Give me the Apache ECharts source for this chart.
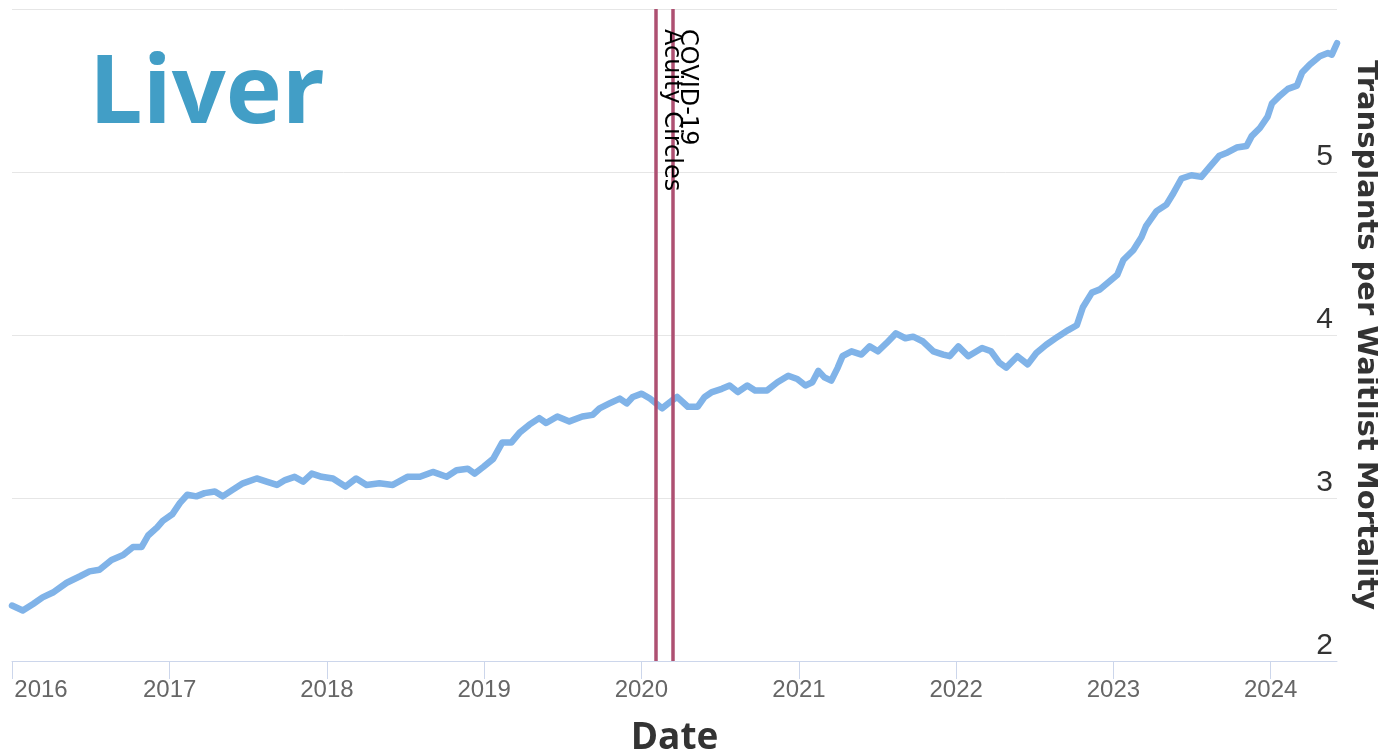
<!DOCTYPE html>
<html>
<head>
<meta charset="utf-8">
<script src="https://cdn.jsdelivr.net/npm/echarts@6/dist/echarts.min.js"></script>
<style>
  html, body { margin: 0; padding: 0; background: #ffffff; }
  #chart { width: 1378px; height: 756px; }
</style>
</head>
<body>
<div id="chart"></div>
<script>
// ---- Data ----
const chartTitle = 'Liver';
const xAxisTitle = 'Date';
const yAxisTitle = 'Transplants per Waitlist Mortality';

const dates = [
  '2016-01-01','2016-01-26','2016-02-19','2016-03-12','2016-04-05','2016-05-07','2016-06-07','2016-06-29',
  '2016-07-22','2016-08-19','2016-09-15','2016-10-08','2016-10-28','2016-11-12','2016-12-03','2016-12-16',
  '2017-01-07','2017-01-25','2017-02-11','2017-03-04','2017-03-23','2017-04-16','2017-05-04','2017-05-27',
  '2017-06-20','2017-07-22','2017-08-14','2017-09-07','2017-09-26','2017-10-18','2017-11-07','2017-11-27',
  '2017-12-20','2018-01-15','2018-02-13','2018-03-10','2018-04-03','2018-05-03','2018-06-03','2018-07-07',
  '2018-08-05','2018-09-04','2018-10-06','2018-10-29','2018-11-24','2018-12-10','2018-12-30','2019-01-22',
  '2019-02-12','2019-03-05','2019-03-24','2019-04-16','2019-05-09','2019-05-25','2019-06-20','2019-07-18',
  '2019-08-17','2019-09-10','2019-09-26','2019-10-19','2019-11-12','2019-11-28','2019-12-12','2020-01-02',
  '2020-01-21','2020-02-18','2020-03-13','2020-03-24','2020-04-18','2020-05-11','2020-05-27','2020-06-13',
  '2020-07-06','2020-07-24','2020-08-12','2020-09-03','2020-09-21','2020-10-19','2020-11-12','2020-12-07',
  '2020-12-28','2021-01-16','2021-02-01','2021-02-15','2021-03-01','2021-03-17','2021-04-01','2021-04-12',
  '2021-05-03','2021-05-26','2021-06-14','2021-07-03','2021-07-23','2021-08-14','2021-09-05','2021-09-23',
  '2021-10-16','2021-11-09','2021-12-02','2021-12-17','2022-01-06','2022-01-29','2022-03-02','2022-03-23',
  '2022-04-11','2022-04-27','2022-05-23','2022-06-16','2022-07-06','2022-07-29','2022-08-25','2022-09-18',
  '2022-10-08','2022-10-22','2022-11-12','2022-12-01','2022-12-19','2023-01-10','2023-01-24','2023-02-16',
  '2023-03-07','2023-03-18','2023-04-11','2023-05-04','2023-05-18','2023-06-08','2023-07-01','2023-07-24',
  '2023-08-12','2023-09-04','2023-09-23','2023-10-14','2023-11-06','2023-11-18','2023-12-07','2023-12-25',
  '2024-01-04','2024-01-23','2024-02-10','2024-03-02','2024-03-14','2024-04-01','2024-04-24','2024-05-13',
  '2024-05-22','2024-06-03'
];

const ratio = [
  2.34, 2.31, 2.35, 2.39, 2.42, 2.48, 2.52, 2.55,
  2.56, 2.62, 2.65, 2.70, 2.70, 2.77, 2.82, 2.86,
  2.90, 2.97, 3.02, 3.01, 3.03, 3.04, 3.01, 3.05,
  3.09, 3.12, 3.10, 3.08, 3.11, 3.13, 3.10, 3.15,
  3.13, 3.12, 3.07, 3.12, 3.08, 3.09, 3.08, 3.13,
  3.13, 3.16, 3.13, 3.17, 3.18, 3.15, 3.19, 3.24,
  3.34, 3.34, 3.40, 3.45, 3.49, 3.46, 3.50, 3.47,
  3.50, 3.51, 3.55, 3.58, 3.61, 3.58, 3.62, 3.64,
  3.61, 3.55, 3.60, 3.62, 3.56, 3.56, 3.62, 3.65,
  3.67, 3.69, 3.65, 3.69, 3.66, 3.66, 3.71, 3.75,
  3.73, 3.69, 3.71, 3.78, 3.74, 3.72, 3.80, 3.87,
  3.90, 3.88, 3.93, 3.90, 3.95, 4.01, 3.98, 3.99,
  3.96, 3.90, 3.88, 3.87, 3.93, 3.87, 3.92, 3.90,
  3.83, 3.80, 3.87, 3.82, 3.89, 3.94, 3.99, 4.03,
  4.06, 4.17, 4.26, 4.28, 4.32, 4.37, 4.46, 4.52,
  4.60, 4.67, 4.76, 4.80, 4.86, 4.96, 4.98, 4.97,
  5.03, 5.10, 5.12, 5.15, 5.16, 5.22, 5.27, 5.34,
  5.42, 5.47, 5.51, 5.53, 5.61, 5.66, 5.71, 5.73,
  5.72, 5.79
];

const eventNames = ['Acuity Circles', 'COVID-19'];
const eventDates = ['2020-02-04', '2020-03-13'];

const xMin = '2016-01-01';
const xMax = '2024-06-03';
const yMin = 2;
const yMax = 6;
const yStep = 1;

// ---- Chart ----
const chart = echarts.init(document.getElementById('chart'), null, { renderer: 'canvas' });
const YEAR_MS = 365.25 * 24 * 3600 * 1000;
const xMinMs = echarts.time.parse(xMin).getTime();

const eventLines = eventNames.map((n, i) => [
  { name: n, coord: [eventDates[i], yMax] },
  { coord: [eventDates[i], yMin] }
]);

const option = {
  animation: false,
  backgroundColor: '#ffffff',
  title: {
    text: chartTitle,
    left: 84,
    top: 43,
    textStyle: {
      fontFamily: 'Open Sans',
      fontWeight: 'bold',
      fontSize: 95,
      color: '#429ec6'
    }
  },
  grid: {
    left: 12,
    right: 41,
    top: 9,
    bottom: 95,
    containLabel: false,
    outerBoundsMode: 'none'
  },
  xAxis: {
    type: 'time',
    min: xMin,
    max: xMax,
    splitNumber: 9,
    minInterval: YEAR_MS,
    maxInterval: YEAR_MS,
    name: xAxisTitle,
    nameLocation: 'middle',
    nameGap: 59,
    nameTextStyle: {
      fontFamily: 'Open Sans',
      fontWeight: 'bold',
      fontSize: 37,
      color: '#333333'
    },
    axisLine: { show: true, lineStyle: { color: '#ccd6eb', width: 1 } },
    axisTick: { show: true, length: 18, lineStyle: { color: '#ccd6eb', width: 1 } },
    splitLine: { show: false },
    axisLabel: {
      formatter: function (value) {
        const yr = echarts.time.format(value, '{yyyy}', false);
        return Math.abs(value - xMinMs) < 86400000 ? '{first|' + yr + '}' : yr;
      },
      rich: {
        first: {
          padding: [0, 0, 0, 58],
          fontFamily: 'Liberation Sans',
          fontSize: 24,
          color: '#666666'
        }
      },
      fontFamily: 'Liberation Sans',
      fontSize: 24,
      color: '#666666',
      margin: 17,
      hideOverlap: false
    }
  },
  yAxis: {
    type: 'value',
    position: 'right',
    min: yMin,
    max: yMax,
    interval: yStep,
    name: yAxisTitle,
    nameLocation: 'middle',
    nameRotate: -90,
    nameGap: 14,
    nameTextStyle: {
      fontFamily: 'DejaVu Sans',
      fontWeight: 'bold',
      fontSize: 29,
      color: '#333333'
    },
    axisLine: { show: false },
    axisTick: { show: false },
    splitLine: { show: true, lineStyle: { color: '#e6e6e6', width: 1 } },
    axisLabel: {
      inside: true,
      showMaxLabel: false,
      margin: 4,
      verticalAlign: 'bottom',
      fontFamily: 'Liberation Sans',
      fontSize: 30,
      color: '#333333'
    }
  },
  series: [
    {
      type: 'line',
      data: dates.map((d, i) => [d, ratio[i]]),
      showSymbol: false,
      symbol: 'none',
      smooth: false,
      lineStyle: { color: '#80b3e8', width: 6.5, join: 'round', cap: 'round' },
      itemStyle: { color: '#80b3e8' },
      emphasis: { disabled: true },
      z: 3,
      markLine: {
        silent: true,
        animation: false,
        symbol: ['none', 'none'],
        lineStyle: { color: '#ae5072', width: 3.5, type: 'solid' },
        emphasis: { disabled: true },
        label: {
          show: true,
          position: 'insideStartTop',
          formatter: '{b}',
          distance: [20, 3],
          fontFamily: 'DejaVu Sans',
          fontSize: 24,
          color: '#000000'
        },
        data: eventLines
      }
    }
  ]
};

chart.setOption(option);
</script>
</body>
</html>
